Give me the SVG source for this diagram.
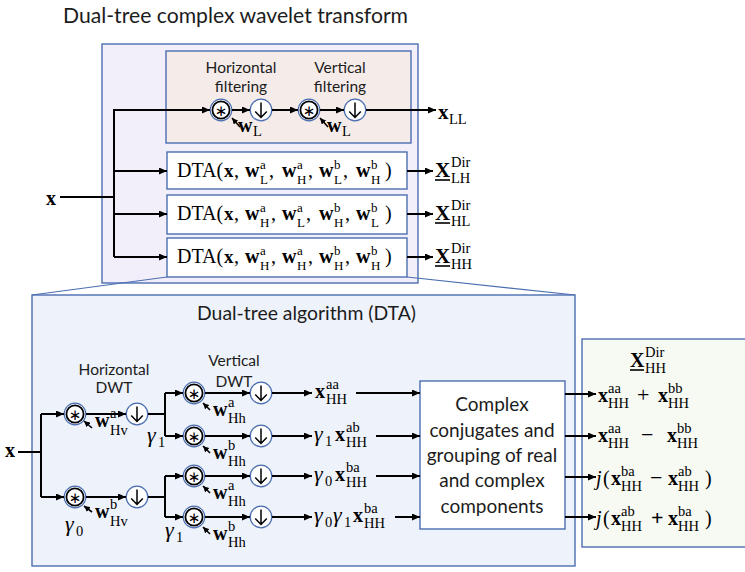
<svg xmlns="http://www.w3.org/2000/svg" width="745" height="572" viewBox="0 0 745 572">
<defs>
  <marker id="ah" markerWidth="8" markerHeight="7" refX="8" refY="3.5" orient="auto" markerUnits="userSpaceOnUse">
    <path d="M0,0 L8,3.5 L0,7 Z" fill="#000"/>
  </marker>
  <marker id="ahs" markerWidth="6" markerHeight="6" refX="6" refY="3" orient="auto" markerUnits="userSpaceOnUse">
    <path d="M0,0 L6,3 L0,6 Z" fill="#000"/>
  </marker>
  <!-- convolution operator -->
  <g id="conv">
    <circle r="10.8" fill="#fff" stroke="#4A6EB0" stroke-width="1.2"/>
    <circle r="8.6" fill="none" stroke="#000" stroke-width="1.8"/>
    <text x="0" y="5.5" text-anchor="middle" font-family="DejaVu Sans, sans-serif" font-size="15">∗</text>
  </g>
  <!-- downsampling operator -->
  <g id="down">
    <circle r="10.8" fill="#fff" stroke="#4A6EB0" stroke-width="1.3"/>
    <path d="M0,-7.5 V7.5 M-5.8,1.5 L0,7.5 L5.8,1.5" fill="none" stroke="#000" stroke-width="1.5"/>
  </g>
</defs>
<style>
  .frame{stroke:#4A6EB0;stroke-width:1.4}
  .wire{fill:none;stroke:#000;stroke-width:2}
  .arr{marker-end:url(#ah)}
  .tick{fill:none;stroke:#000;stroke-width:1.6;marker-end:url(#ahs)}
  .fan{fill:none;stroke:#4A6EB0;stroke-width:1.2}
  .sans{font-family:Lato,"Open Sans","Liberation Sans",sans-serif;fill:#1c1c1c}
  .m{font-family:"Liberation Serif","DejaVu Serif",serif;fill:#000;font-size:20px}
  .b{font-weight:bold}
  .i{font-style:italic}
  .g{font-style:italic;font-size:22px}
  .sc{font-size:14.5px;font-weight:normal;font-style:normal}
  .st{font-size:13px;font-weight:normal}
  .ul{stroke:#000;stroke-width:1.6}
</style>

<rect width="745" height="572" fill="#fff"/>

<!-- title -->
<text class="sans" x="63" y="23" font-size="22" textLength="345" lengthAdjust="spacingAndGlyphs">Dual-tree complex wavelet transform</text>

<!-- ===== top: transform overview ===== -->
<g id="transform-box">
  <rect x="102" y="44" width="316" height="239" fill="#F3EFFA" class="frame"/>
</g>

<g id="ll-branch">
  <rect x="166" y="51" width="245" height="92" fill="#F5ECEA" class="frame"/>
  <text class="sans" font-size="15.5" text-anchor="middle"><tspan x="241" y="73">Horizontal</tspan><tspan x="241" y="92">filtering</tspan></text>
  <text class="sans" font-size="15.5" text-anchor="middle"><tspan x="340" y="73">Vertical</tspan><tspan x="340" y="92">filtering</tspan></text>
  <use href="#conv" x="221" y="110"/>
  <use href="#down" x="261" y="110"/>
  <use href="#conv" x="309" y="110"/>
  <use href="#down" x="355" y="110"/>
  <text class="m"><tspan class="b" x="238" y="132">w</tspan><tspan class="sc" x="253" y="136">L</tspan></text>
  <text class="m"><tspan class="b" x="327" y="132">w</tspan><tspan class="sc" x="342" y="136">L</tspan></text>
</g>

<g id="dta-lh">
  <rect x="167" y="152" width="240" height="37" fill="#fff" class="frame"/>
  <text class="m" font-size="18"><tspan x="177" y="177">DTA(</tspan><tspan class="b" x="224" y="177" font-size="19">x</tspan><tspan x="234" y="177">,</tspan><tspan class="b" x="245" y="177" font-size="20">w</tspan><tspan class="st" x="260" y="169">a</tspan><tspan class="st" x="260" y="184">L</tspan><tspan x="269" y="177">,</tspan><tspan class="b" x="282" y="177" font-size="20">w</tspan><tspan class="st" x="297" y="169">a</tspan><tspan class="st" x="297" y="184">H</tspan><tspan x="308" y="177">,</tspan><tspan class="b" x="319" y="177" font-size="20">w</tspan><tspan class="st" x="334" y="169">b</tspan><tspan class="st" x="334" y="184">L</tspan><tspan x="343" y="177">,</tspan><tspan class="b" x="356" y="177" font-size="20">w</tspan><tspan class="st" x="371" y="169">b</tspan><tspan class="st" x="371" y="184">H</tspan><tspan x="385" y="177">)</tspan></text>
</g>

<g id="dta-hl">
  <rect x="167" y="195" width="240" height="39" fill="#fff" class="frame"/>
  <text class="m" font-size="18"><tspan x="177" y="220">DTA(</tspan><tspan class="b" x="224" y="220" font-size="19">x</tspan><tspan x="234" y="220">,</tspan><tspan class="b" x="245" y="220" font-size="20">w</tspan><tspan class="st" x="260" y="212">a</tspan><tspan class="st" x="260" y="227">H</tspan><tspan x="271" y="220">,</tspan><tspan class="b" x="282" y="220" font-size="20">w</tspan><tspan class="st" x="297" y="212">a</tspan><tspan class="st" x="297" y="227">L</tspan><tspan x="306" y="220">,</tspan><tspan class="b" x="319" y="220" font-size="20">w</tspan><tspan class="st" x="334" y="212">b</tspan><tspan class="st" x="334" y="227">H</tspan><tspan x="345" y="220">,</tspan><tspan class="b" x="356" y="220" font-size="20">w</tspan><tspan class="st" x="371" y="212">b</tspan><tspan class="st" x="371" y="227">L</tspan><tspan x="385" y="220">)</tspan></text>
</g>

<g id="dta-hh">
  <rect x="167" y="238" width="240" height="39" fill="#fff" class="frame"/>
  <text class="m" font-size="18"><tspan x="177" y="263">DTA(</tspan><tspan class="b" x="224" y="263" font-size="19">x</tspan><tspan x="234" y="263">,</tspan><tspan class="b" x="245" y="263" font-size="20">w</tspan><tspan class="st" x="260" y="255">a</tspan><tspan class="st" x="260" y="270">H</tspan><tspan x="271" y="263">,</tspan><tspan class="b" x="282" y="263" font-size="20">w</tspan><tspan class="st" x="297" y="255">a</tspan><tspan class="st" x="297" y="270">H</tspan><tspan x="308" y="263">,</tspan><tspan class="b" x="319" y="263" font-size="20">w</tspan><tspan class="st" x="334" y="255">b</tspan><tspan class="st" x="334" y="270">H</tspan><tspan x="345" y="263">,</tspan><tspan class="b" x="356" y="263" font-size="20">w</tspan><tspan class="st" x="371" y="255">b</tspan><tspan class="st" x="371" y="270">H</tspan><tspan x="385" y="263">)</tspan></text>
</g>

<g id="top-labels">
  <text class="m b" x="46" y="205" font-size="22">x</text>
  <text class="m"><tspan class="b" x="438" y="119" font-size="21">x</tspan><tspan class="sc" x="449" y="124">LL</tspan></text>
  <text class="m"><tspan class="b" x="435" y="177" font-size="21">X</tspan><tspan class="sc" x="451" y="167">Dir</tspan><tspan class="sc" x="451" y="183">LH</tspan></text>
  <line class="ul" x1="435" y1="180" x2="450" y2="180"/>
  <text class="m"><tspan class="b" x="435" y="220" font-size="21">X</tspan><tspan class="sc" x="451" y="210">Dir</tspan><tspan class="sc" x="451" y="226">HL</tspan></text>
  <line class="ul" x1="435" y1="223" x2="450" y2="223"/>
  <text class="m"><tspan class="b" x="435" y="263" font-size="21">X</tspan><tspan class="sc" x="451" y="253">Dir</tspan><tspan class="sc" x="451" y="269">HH</tspan></text>
  <line class="ul" x1="435" y1="266" x2="450" y2="266"/>
</g>

<!-- zoom-out outline from the HH block to the detailed view -->
<g id="zoom-fan">
  <line class="fan" x1="167" y1="277" x2="32" y2="295"/>
  <line class="fan" x1="407" y1="277" x2="575" y2="295"/>
</g>

<!-- ===== bottom: dual-tree algorithm ===== -->
<g id="dta-detail">
  <rect x="32" y="295" width="543" height="271" fill="#EEF2FA" class="frame"/>
  <text class="sans" x="197" y="320" font-size="20" textLength="219" lengthAdjust="spacingAndGlyphs">Dual-tree algorithm (DTA)</text>
  <text class="sans" font-size="15.5" text-anchor="middle"><tspan x="114" y="375">Horizontal</tspan><tspan x="114" y="393">DWT</tspan></text>
  <text class="sans" font-size="15.5" text-anchor="middle"><tspan x="234" y="366">Vertical</tspan><tspan x="234" y="387">DWT</tspan></text>
</g>

<g id="stage-h">
  <use href="#conv" x="75" y="414"/>
  <use href="#down" x="137" y="414"/>
  <use href="#conv" x="75" y="497"/>
  <use href="#down" x="137" y="497"/>
  <text class="m"><tspan class="b" x="95" y="427">w</tspan><tspan class="sc" x="110" y="418">a</tspan><tspan class="sc" x="110" y="435">Hv</tspan></text>
  <text class="m"><tspan class="b" x="95" y="518">w</tspan><tspan class="sc" x="110" y="509">b</tspan><tspan class="sc" x="110" y="526">Hv</tspan></text>
  <text class="m"><tspan class="g" x="147" y="442">γ</tspan><tspan class="sc" x="158" y="447">1</tspan></text>
  <text class="m"><tspan class="g" x="65" y="531">γ</tspan><tspan class="sc" x="76" y="536">0</tspan></text>
  <text class="m"><tspan class="g" x="165" y="537">γ</tspan><tspan class="sc" x="176" y="542">1</tspan></text>
</g>

<g id="stage-v">
  <use href="#conv" x="194" y="393"/>
  <use href="#down" x="261" y="393"/>
  <use href="#conv" x="194" y="436"/>
  <use href="#down" x="261" y="436"/>
  <use href="#conv" x="194" y="476"/>
  <use href="#down" x="261" y="476"/>
  <use href="#conv" x="194" y="517"/>
  <use href="#down" x="261" y="517"/>
  <text class="m"><tspan class="b" x="213" y="416">w</tspan><tspan class="sc" x="228" y="407">a</tspan><tspan class="sc" x="228" y="423">Hh</tspan></text>
  <text class="m"><tspan class="b" x="213" y="459">w</tspan><tspan class="sc" x="228" y="450">b</tspan><tspan class="sc" x="228" y="466">Hh</tspan></text>
  <text class="m"><tspan class="b" x="213" y="499">w</tspan><tspan class="sc" x="228" y="490">a</tspan><tspan class="sc" x="228" y="506">Hh</tspan></text>
  <text class="m"><tspan class="b" x="213" y="540">w</tspan><tspan class="sc" x="228" y="531">b</tspan><tspan class="sc" x="228" y="547">Hh</tspan></text>
</g>

<g id="subbands">
  <text class="m b" x="5" y="457" font-size="22">x</text>
  <text class="m"><tspan class="b" x="315" y="398">x</tspan><tspan class="sc" x="326" y="389">aa</tspan><tspan class="sc" x="326" y="404">HH</tspan></text>
  <text class="m"><tspan class="g" x="314" y="441">γ</tspan><tspan class="sc" x="325" y="446">1</tspan><tspan class="b" x="335" y="441">x</tspan><tspan class="sc" x="346" y="432">ab</tspan><tspan class="sc" x="346" y="447">HH</tspan></text>
  <text class="m"><tspan class="g" x="314" y="481">γ</tspan><tspan class="sc" x="325" y="486">0</tspan><tspan class="b" x="335" y="481">x</tspan><tspan class="sc" x="346" y="472">ba</tspan><tspan class="sc" x="346" y="487">HH</tspan></text>
  <text class="m"><tspan class="g" x="314" y="522">γ</tspan><tspan class="sc" x="325" y="527">0</tspan><tspan class="g" x="333" y="522">γ</tspan><tspan class="sc" x="344" y="527">1</tspan><tspan class="b" x="353" y="522">x</tspan><tspan class="sc" x="364" y="513">ba</tspan><tspan class="sc" x="364" y="528">HH</tspan></text>
</g>

<g id="grouping">
  <rect x="420" y="381" width="145" height="148" fill="#fff" class="frame"/>
  <text class="sans" font-size="19" text-anchor="middle"><tspan x="492" y="411">Complex</tspan><tspan x="492" y="437">conjugates and</tspan><tspan x="492" y="462">grouping of real</tspan><tspan x="492" y="487">and complex</tspan><tspan x="492" y="513">components</tspan></text>
</g>

<g id="hh-output">
  <rect x="582" y="339" width="200" height="208" fill="#F7F9F3" class="frame"/>
  <text class="m"><tspan class="b" x="630" y="367">X</tspan><tspan class="sc" x="645" y="357">Dir</tspan><tspan class="sc" x="645" y="373">HH</tspan></text>
  <line class="ul" x1="630" y1="370" x2="644" y2="370"/>
  <text class="m"><tspan class="b" x="598" y="402">x</tspan><tspan class="sc" x="608" y="393">aa</tspan><tspan class="sc" x="608" y="408">HH</tspan><tspan x="637" y="402" font-size="22">+</tspan><tspan class="b" x="658" y="402">x</tspan><tspan class="sc" x="668" y="393">bb</tspan><tspan class="sc" x="668" y="408">HH</tspan></text>
  <text class="m"><tspan class="b" x="598" y="442">x</tspan><tspan class="sc" x="608" y="433">aa</tspan><tspan class="sc" x="608" y="448">HH</tspan><tspan x="641" y="442" font-size="22">−</tspan><tspan class="b" x="667" y="442">x</tspan><tspan class="sc" x="677" y="433">bb</tspan><tspan class="sc" x="677" y="448">HH</tspan></text>
  <text class="m"><tspan class="i" x="596" y="485">j</tspan><tspan x="603" y="485">(</tspan><tspan class="b" x="611" y="485">x</tspan><tspan class="sc" x="621" y="476">ba</tspan><tspan class="sc" x="621" y="491">HH</tspan><tspan x="650" y="485" font-size="22">−</tspan><tspan class="b" x="668" y="485">x</tspan><tspan class="sc" x="678" y="476">ab</tspan><tspan class="sc" x="678" y="491">HH</tspan><tspan x="705" y="485">)</tspan></text>
  <text class="m"><tspan class="i" x="596" y="525">j</tspan><tspan x="603" y="525">(</tspan><tspan class="b" x="611" y="525">x</tspan><tspan class="sc" x="621" y="516">ab</tspan><tspan class="sc" x="621" y="531">HH</tspan><tspan class="b" x="651" y="525" font-size="22">+</tspan><tspan class="b" x="668" y="525">x</tspan><tspan class="sc" x="678" y="516">ba</tspan><tspan class="sc" x="678" y="531">HH</tspan><tspan x="705" y="525">)</tspan></text>
</g>

<!-- ===== connectors ===== -->
<g id="connectors">
  <path class="wire" d="M60,197 H114" stroke-width="2.6"/>
  <path class="wire arr" d="M114,257 V110 H210"/>
  <path class="wire arr" d="M114,171 H167"/>
  <path class="wire arr" d="M114,214 H167"/>
  <path class="wire arr" d="M114,257 H167"/>
  <path class="wire arr" d="M232,110 H250"/>
  <path class="wire arr" d="M272,110 H298"/>
  <path class="wire arr" d="M320,110 H344"/>
  <path class="wire arr" d="M366,110 H436" stroke-width="1.6"/>
  <path class="wire arr" d="M407,171 H433"/>
  <path class="wire arr" d="M407,214 H433"/>
  <path class="wire arr" d="M407,257 H433"/>
  <path class="tick" d="M240,127 L232,118"/>
  <path class="tick" d="M328,127 L320,118"/>

  <path class="wire" d="M18,452 H41" stroke-width="2.6"/>
  <path class="wire" d="M41,414 V497"/>
  <path class="wire arr" d="M41,414 H64"/>
  <path class="wire arr" d="M41,497 H64"/>
  <path class="wire arr" d="M86,414 H126"/>
  <path class="wire arr" d="M86,497 H126"/>
  <path class="wire" d="M148,414 H165 M165,393 V436 M148,497 H165 M165,476 V517"/>
  <path class="wire arr" d="M165,393 H183"/>
  <path class="wire arr" d="M165,436 H183"/>
  <path class="wire arr" d="M165,476 H183"/>
  <path class="wire arr" d="M165,517 H183"/>
  <path class="wire arr" d="M205,393 H250"/>
  <path class="wire arr" d="M205,436 H250"/>
  <path class="wire arr" d="M205,476 H250"/>
  <path class="wire arr" d="M205,517 H250"/>
  <path class="wire arr" d="M272,393 H312"/>
  <path class="wire arr" d="M272,436 H312"/>
  <path class="wire arr" d="M272,476 H312"/>
  <path class="wire arr" d="M272,517 H312"/>
  <path class="wire arr" d="M356,393 H420"/>
  <path class="wire arr" d="M376,436 H420"/>
  <path class="wire arr" d="M376,476 H420"/>
  <path class="wire arr" d="M395,517 H420"/>
  <path class="wire arr" d="M565,394 H596"/>
  <path class="wire arr" d="M565,436 H596"/>
  <path class="wire arr" d="M565,477 H596"/>
  <path class="wire arr" d="M565,517 H596"/>
  <path class="tick" d="M92,428 L84,421"/>
  <path class="tick" d="M92,512 L84,506"/>
  <path class="tick" d="M210,410 L203,403"/>
  <path class="tick" d="M210,453 L203,446"/>
  <path class="tick" d="M210,493 L203,486"/>
  <path class="tick" d="M210,534 L203,527"/>
</g>
</svg>
